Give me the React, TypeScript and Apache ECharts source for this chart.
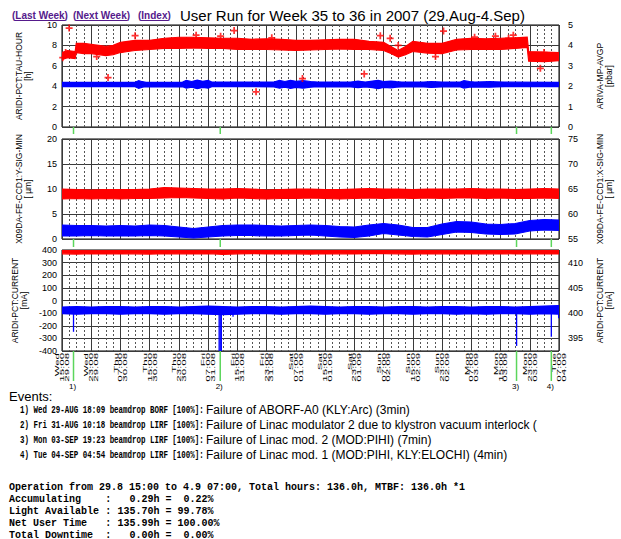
import React, { useEffect, useRef } from 'react';
import * as echarts from 'echarts';

const SANS = 'Liberation Sans, Arial, sans-serif';
const MONO = 'Liberation Mono, DejaVu Sans Mono, monospace';

// x axis: hours since Wed 29.08 15:00
const xTickLabels = [
  'Wed\n15:00\n29.08', 'Wed\n23:00\n29.08', 'Thu\n07:00\n30.08', 'Thu\n15:00\n30.08',
  'Thu\n23:00\n30.08', 'Fri\n07:00\n31.08', 'Fri\n15:00\n31.08', 'Fri\n23:00\n31.08',
  'Sat\n07:00\n01.09', 'Sat\n15:00\n01.09', 'Sat\n23:00\n01.09', 'Sun\n07:00\n02.09',
  'Sun\n15:00\n02.09', 'Sun\n23:00\n02.09', 'Mon\n07:00\n03.09', 'Mon\n15:00\n03.09',
  'Mon\n23:00\n03.09', 'Tue\n07:00\n04.09',
];
const xTickHours = [0, 8, 16, 24, 32, 40, 48, 56, 64, 72, 80, 88, 96, 104, 112, 120, 128, 136];

const hours4 = [0, 4, 8, 12, 16, 20, 24, 28, 32, 36, 40, 44, 48, 52, 56, 60, 64, 68, 72, 76, 80, 84, 88, 92, 96, 100, 104, 108, 112, 116, 120, 124, 128, 132, 136];

// Panel 1, left: ARIDI-PCT:TAU-HOUR [h] (red band)
const tauHours = [0, 1.5, 3.6, 3.9, 6, 8, 10, 12, 14, 16, 18, 20, 24, 28, 32, 36, 40, 44, 48, 52, 56, 60, 64, 68, 72, 76, 80, 84, 88, 90, 92, 94, 96, 100, 104, 108, 112, 116, 120, 124, 127.3, 127.7, 132, 136];
const tauLow = [6.6, 6.8, 6.7, 7.3, 7.2, 7.2, 7.1, 7.0, 7.1, 7.3, 7.4, 7.5, 7.6, 7.7, 7.7, 7.75, 7.7, 7.7, 7.6, 7.6, 7.6, 7.55, 7.5, 7.55, 7.6, 7.65, 7.6, 7.6, 7.5, 7.2, 6.85, 7.1, 7.4, 7.25, 7.2, 7.55, 7.6, 7.6, 7.6, 7.7, 7.8, 6.45, 6.4, 6.5];
const tauHigh = [7.3, 7.5, 7.4, 8.2, 8.2, 8.1, 8.0, 7.9, 8.0, 8.3, 8.4, 8.5, 8.5, 8.7, 8.8, 8.8, 8.75, 8.7, 8.7, 8.6, 8.65, 8.6, 8.5, 8.5, 8.55, 8.6, 8.6, 8.4, 8.3, 7.9, 7.5, 7.9, 8.4, 8.2, 8.2, 8.6, 8.7, 8.65, 8.7, 8.75, 8.8, 7.4, 7.35, 7.3];
// isolated red "+" points
const tauOutHours = [0.2, 1.0, 1.95, 9.5, 12.6, 20, 36.7, 43.4, 47.1, 53.1, 57.4, 65.8, 82.7, 87.1, 89.8, 92, 102.2, 104.4, 112.9, 118.6, 122.2, 123.5, 130.9, 131.9];
const tauOutValues = [6.8, 7.3, 9.7, 6.9, 4.85, 8.95, 9.0, 8.9, 9.45, 3.45, 8.75, 4.75, 5.2, 8.95, 8.7, 8.0, 6.9, 9.4, 8.8, 8.9, 8.7, 9.0, 5.75, 7.3];

// Panel 1, right: ARIVA-MP-AVGP [pbar] (blue band)
const presHours = [0, 20, 21, 22, 23, 33, 34, 35.5, 37, 38.5, 40, 41, 58, 59.5, 61, 62.5, 64, 66, 68, 70, 79, 81, 83, 85, 86.5, 88, 90, 91.5, 93, 99, 101, 104, 109, 110, 111.5, 113, 117, 119, 121, 136];
const presLow = [1.98, 1.98, 1.9, 1.95, 1.98, 1.97, 1.9, 1.95, 1.88, 1.94, 1.9, 1.98, 1.97, 1.9, 1.95, 1.89, 1.94, 1.9, 1.95, 1.98, 1.97, 1.93, 1.97, 1.93, 1.88, 1.94, 1.92, 1.95, 1.97, 1.97, 1.94, 1.97, 1.97, 1.91, 1.95, 1.97, 1.95, 1.97, 1.98, 1.98];
const presHigh = [2.19, 2.19, 2.27, 2.22, 2.19, 2.2, 2.28, 2.23, 2.3, 2.24, 2.28, 2.2, 2.2, 2.28, 2.23, 2.29, 2.24, 2.27, 2.23, 2.2, 2.2, 2.25, 2.2, 2.25, 2.29, 2.23, 2.25, 2.22, 2.2, 2.2, 2.23, 2.2, 2.2, 2.27, 2.23, 2.2, 2.22, 2.21, 2.2, 2.19];

// Panel 2, left: X09DA-FE-CCD1:Y-SIG-MIN [um] (red band)
const ccdYLow = [8.0, 8.1, 8.0, 8.1, 8.0, 8.1, 8.1, 8.2, 8.3, 8.2, 8.1, 8.0, 8.2, 8.1, 8.0, 8.1, 8.1, 8.2, 8.1, 8.0, 8.1, 8.2, 8.1, 8.2, 8.1, 8.2, 8.1, 8.2, 8.2, 8.1, 8.2, 8.1, 8.1, 8.2, 8.1];
const ccdYHigh = [10.0, 9.9, 9.8, 9.9, 9.9, 9.9, 10.0, 10.3, 10.2, 10.1, 10.0, 10.0, 10.1, 10.0, 9.8, 9.9, 10.0, 10.0, 9.9, 9.9, 10.0, 10.1, 10.0, 10.0, 9.9, 10.0, 10.0, 10.0, 10.1, 10.0, 10.0, 9.9, 10.0, 10.1, 10.0];

// Panel 2, right: X09DA-FE-CCD1:X-SIG-MIN [um] (blue band)
const ccdXLow = [55.6, 55.6, 55.7, 55.6, 55.6, 55.6, 55.7, 55.6, 55.4, 55.2, 55.4, 55.6, 55.7, 55.7, 55.6, 55.6, 55.7, 55.8, 55.6, 55.4, 55.3, 55.6, 56.1, 55.8, 55.5, 55.4, 55.9, 56.4, 56.3, 56.0, 55.9, 56.0, 56.6, 56.8, 56.7];
const ccdXHigh = [57.8, 57.7, 57.7, 57.6, 57.7, 57.6, 57.8, 57.7, 57.4, 57.1, 57.4, 57.7, 57.8, 57.8, 57.7, 57.6, 57.7, 57.8, 57.7, 57.5, 57.4, 57.8, 58.1, 57.8, 57.3, 57.3, 58.0, 58.5, 58.4, 58.0, 57.9, 58.1, 58.7, 58.9, 58.8];

// Panel 3, left: ARIDI-PCT:CURRENT [mA] (red band)
const curRedLow = [370, 368, 371, 369, 372, 370, 368, 371, 370, 369, 372, 366, 370, 371, 369, 372, 370, 368, 371, 370, 369, 371, 372, 370, 368, 371, 370, 369, 371, 370, 372, 369, 370, 371, 369];
const curRedHigh = [398, 397, 398, 398, 397, 398, 399, 398, 397, 398, 398, 397, 398, 398, 397, 398, 399, 398, 398, 397, 398, 398, 397, 398, 398, 397, 398, 399, 398, 398, 397, 398, 398, 397, 398];

// Panel 3, right: ARIDI-PCT:CURRENT [mA] (blue band + beam drops)
const curBlueLow = [399.9, 399.8, 399.9, 399.9, 399.8, 399.9, 399.9, 399.8, 399.9, 399.9, 399.8, 399.7, 399.8, 399.9, 399.9, 399.8, 399.9, 399.9, 399.8, 399.9, 399.9, 399.8, 399.9, 399.9, 399.8, 399.9, 399.9, 399.8, 399.9, 399.8, 399.9, 399.9, 399.8, 399.9, 399.8];
const curBlueHigh = [401.2, 401.3, 401.2, 401.3, 401.3, 401.2, 401.3, 401.3, 401.2, 401.3, 401.4, 401.3, 401.2, 401.3, 401.3, 401.2, 401.3, 401.4, 401.3, 401.2, 401.3, 401.3, 401.2, 401.3, 401.3, 401.2, 401.3, 401.3, 401.2, 401.3, 401.3, 401.2, 401.3, 401.4, 401.5];
const curDipHours = [3.15, 43.0, 43.3, 43.6, 46.8, 124.4, 133.9, 135.9];
const curDipValues = [396.3, 380, 380, 380, 399.3, 393.5, 395.3, 399.0];

// Events
const eventHours = [3.15, 43.3, 124.38, 133.9];
const eventMarks = ['1)', '2)', '3)', '4)'];
const eventHeads = [
  '1) Wed 29-AUG 18:09 beamdrop BORF [100%]:',
  '2) Fri 31-AUG 10:18 beamdrop LIRF [100%]:',
  '3) Mon 03-SEP 19:23 beamdrop LIRF [100%]:',
  '4) Tue 04-SEP 04:54 beamdrop LIRF [100%]:',
];
const eventTexts = [
  'Failure of ABORF-A0 (KLY:Arc) (3min)',
  'Failure of Linac modulator 2 due to klystron vacuum interlock (',
  'Failure of Linac mod. 2 (MOD:PIHI) (7min)',
  'Failure of Linac mod. 1 (MOD:PIHI, KLY:ELOCHI) (4min)',
];
const operationLine = 'Operation from 29.8 15:00 to 4.9 07:00, Total hours: 136.0h, MTBF: 136.0h *1';
const statNames = ['Accumulating', 'Light Available', 'Net User Time', 'Total Downtime'];
const statHours = ['0.29h', '135.70h', '135.99h', '0.00h'];
const statPercents = ['0.22%', '99.78%', '100.00%', '0.00%'];

const GRIDS = [
  { top: 25, height: 102 },
  { top: 139, height: 100 },
  { top: 250, height: 101 },
];
const LEFT = 62;
const WIDTH = 511;

function band(name: string, xIdx: number, yIdx: number, hours: number[], lo: number[], hi: number[], color: string) {
  return {
    type: 'custom',
    name,
    xAxisIndex: xIdx,
    yAxisIndex: yIdx,
    clip: true,
    silent: true,
    data: [[hours[0], lo[0]]],
    encode: { x: 0, y: 1 },
    renderItem: (_p: any, api: any) => {
      const top = hours.map((h, i) => api.coord([h, hi[i]]));
      const bot = hours.map((h, i) => api.coord([h, lo[i]])).reverse();
      return {
        type: 'polygon',
        shape: { points: top.concat(bot) },
        style: { fill: color, stroke: color, lineWidth: 1.2 },
      };
    },
  };
}

function xAxis(gridIndex: number) {
  return {
    type: 'value',
    gridIndex,
    min: 0,
    max: 136,
    interval: 8,
    axisLine: { show: false },
    axisTick: { show: false },
    axisLabel: { show: false },
    splitLine: { show: true, lineStyle: { color: '#3a3a3a', width: 1 } },
    minorTick: { show: false, splitNumber: 4 },
    minorSplitLine: { show: true, lineStyle: { color: '#555', width: 1, type: [2, 2] } },
  };
}

function yAxis(gridIndex: number, side: 'left' | 'right', min: number, max: number, interval: number, name: string, fmt?: (v: number) => string) {
  return {
    type: 'value',
    gridIndex,
    position: side,
    min,
    max,
    interval,
    axisLine: { show: false },
    axisTick: { show: false },
    axisLabel: {
      fontSize: 9,
      color: '#000',
      fontFamily: SANS,
      margin: side === 'left' ? 5 : 9,
      formatter: fmt,
    },
    splitLine: { show: side === 'left', lineStyle: { color: '#3a3a3a', width: 1 } },
    name,
    nameLocation: 'middle',
    nameRotate: 90,
    nameGap: side === 'left' ? 30 : 36,
    nameTextStyle: { fontSize: 8.5, lineHeight: 9, color: '#000', fontFamily: SANS },
  };
}

export default function App() {
  const ref = useRef<HTMLDivElement>(null);
  useEffect(() => {
    document.body.style.margin = '0';
    const chart = echarts.init(ref.current as HTMLDivElement, null, { renderer: 'svg' });
    const plus = 'path://M3,0H5V3H8V5H5V8H3V5H0V3H3Z';
    const option: any = {
      animation: false,
      backgroundColor: '#fff',
      grid: GRIDS.map((g) => ({
        left: LEFT,
        width: WIDTH,
        top: g.top,
        height: g.height,
        show: true,
        borderColor: '#000',
        borderWidth: 1,
        backgroundColor: 'transparent',
      })),
      xAxis: [xAxis(0), xAxis(1), xAxis(2)],
      yAxis: [
        yAxis(0, 'left', 0, 10, 2, 'ARIDI-PCT:TAU-HOUR\n[h]'),
        yAxis(0, 'right', 0, 5, 1, 'ARIVA-MP-AVGP\n[pbar]'),
        yAxis(1, 'left', 0, 20, 5, 'X09DA-FE-CCD1:Y-SIG-MIN\n[ µm]'),
        yAxis(1, 'right', 55, 75, 5, 'X09DA-FE-CCD1:X-SIG-MIN\n[ µm]'),
        yAxis(2, 'left', -400, 400, 100, 'ARIDI-PCT:CURRENT\n[mA]'),
        yAxis(2, 'right', 392.5, 412.5, 2.5, 'ARIDI-PCT:CURRENT\n[mA]', (v: number) => (v % 5 === 0 ? String(v) : '')),
      ],
      series: [
        band('tau', 0, 0, tauHours, tauLow, tauHigh, '#ff0000'),
        {
          type: 'scatter',
          name: 'tauOutliers',
          xAxisIndex: 0,
          yAxisIndex: 0,
          symbol: plus,
          symbolSize: 7,
          itemStyle: { color: '#ff0000' },
          data: tauOutHours.map((h, i) => [h, tauOutValues[i]]),
        },
        band('pressure', 0, 1, presHours, presLow, presHigh, '#0000ff'),
        band('ccdY', 1, 2, hours4, ccdYLow, ccdYHigh, '#ff0000'),
        band('ccdX', 1, 3, hours4, ccdXLow, ccdXHigh, '#0000ff'),
        band('currentRed', 2, 4, hours4, curRedLow, curRedHigh, '#ff0000'),
        band('currentBlue', 2, 5, hours4, curBlueLow, curBlueHigh, '#0000ff'),
        {
          type: 'custom',
          name: 'beamDrops',
          xAxisIndex: 2,
          yAxisIndex: 5,
          clip: true,
          data: curDipHours.map((h, i) => [h, curDipValues[i]]),
          encode: { x: 0, y: 1 },
          renderItem: (_p: any, api: any) => {
            const a = api.coord([api.value(0), 400.6]);
            const b = api.coord([api.value(0), api.value(1)]);
            return {
              type: 'line',
              shape: { x1: a[0], y1: a[1], x2: b[0], y2: b[1] },
              style: { stroke: '#0000ff', lineWidth: 1.3 },
            };
          },
        },
      ],
    };
    chart.setOption(option);

    const g1b = GRIDS[0].top + GRIDS[0].height;
    const g2b = GRIDS[1].top + GRIDS[1].height;
    const g3b = GRIDS[2].top + GRIDS[2].height;
    const graphics: any[] = [];

    // x tick labels, placed through the bottom x axis scale (tall, narrow rotated text)
    xTickHours.forEach((h, i) => {
      const x = chart.convertToPixel({ xAxisIndex: 2 }, h) as number;
      graphics.push({
        type: 'text',
        x,
        y: g3b + 2,
        rotation: Math.PI / 2,
        scaleX: 1.85,
        style: {
          text: xTickLabels[i],
          fontSize: 6.2,
          lineHeight: 4.8,
          fontFamily: SANS,
          fill: '#000',
          align: 'right',
          verticalAlign: 'middle',
        },
      });
    });

    const green = '#5cd65c';
    const evX = eventHours.map((h) => chart.convertToPixel({ xAxisIndex: 2 }, h) as number);
    evX.forEach((x, i) => {
      const segs = [
        [g1b, g1b + 7],
        [g2b, g2b + 8],
        [g3b, g3b + 30],
      ];
      segs.forEach(([y1, y2]) =>
        graphics.push({ type: 'line', shape: { x1: x, y1, x2: x, y2 }, style: { stroke: green, lineWidth: 1.5 }, z: 10 })
      );
      graphics.push({
        type: 'text', x: x - 1, y: g3b + 35,
        style: { text: eventMarks[i], fontSize: 8, fontFamily: SANS, fill: '#000', align: 'center', verticalAlign: 'middle' },
      });
    });

    // header
    const links = [
      { t: '(Last Week)', x: 12, u: [15, 65] },
      { t: '(Next Week)', x: 73, u: [76, 127] },
      { t: '(Index)', x: 138, u: [141, 168] },
    ];
    links.forEach((l) => {
      graphics.push({ type: 'text', x: l.x, y: 15, style: { text: l.t, fontSize: 10, fontWeight: 'bold', fontFamily: SANS, fill: '#551a8b', verticalAlign: 'middle' } });
      graphics.push({ type: 'line', shape: { x1: l.u[0], y1: 20.5, x2: l.u[1], y2: 20.5 }, style: { stroke: '#551a8b', lineWidth: 1 } });
    });
    graphics.push({ type: 'text', x: 180, y: 15, style: { text: 'User Run for Week 35 to 36 in 2007 (29.Aug-4.Sep)', fontSize: 15, fontFamily: SANS, fill: '#000', verticalAlign: 'middle' } });

    // events
    graphics.push({ type: 'text', x: 9, y: 396, style: { text: 'Events:', fontSize: 13, fontFamily: SANS, fill: '#000', verticalAlign: 'middle' } });
    const evY = [410, 425, 440, 455];
    eventHeads.forEach((t, i) => {
      graphics.push({ type: 'text', x: 20, y: evY[i], scaleX: 0.68, style: { text: t, fontSize: 11, fontWeight: 'bold', fontFamily: MONO, fill: '#000', verticalAlign: 'middle' } });
      graphics.push({ type: 'text', x: 206, y: evY[i], style: { text: eventTexts[i], fontSize: 12, fontFamily: SANS, fill: '#000', verticalAlign: 'middle' } });
    });

    // statistics
    const cw = 6.02;
    const sx = 9;
    graphics.push({ type: 'text', x: sx, y: 487, style: { text: operationLine, fontSize: 10, fontWeight: 'bold', fontFamily: MONO, fill: '#000', verticalAlign: 'middle' } });
    const sY = [499, 511, 523, 535];
    statNames.forEach((n, i) => {
      const st = { fontSize: 10, fontWeight: 'bold', fontFamily: MONO, fill: '#000', verticalAlign: 'middle' };
      graphics.push({ type: 'text', x: sx, y: sY[i], style: { ...st, text: n } });
      graphics.push({ type: 'text', x: sx + 16 * cw, y: sY[i], style: { ...st, text: ':' } });
      graphics.push({ type: 'text', x: sx + 25 * cw, y: sY[i], style: { ...st, text: statHours[i], align: 'right' } });
      graphics.push({ type: 'text', x: sx + 26 * cw, y: sY[i], style: { ...st, text: '=' } });
      graphics.push({ type: 'text', x: sx + (statPercents[i].length > 6 ? 28 : 34 - statPercents[i].length) * cw, y: sY[i], style: { ...st, text: statPercents[i] } });
    });

    chart.setOption({ graphic: graphics });
    return () => chart.dispose();
  }, []);
  return <div ref={ref} style={{ width: 621, height: 539 }} />;
}
